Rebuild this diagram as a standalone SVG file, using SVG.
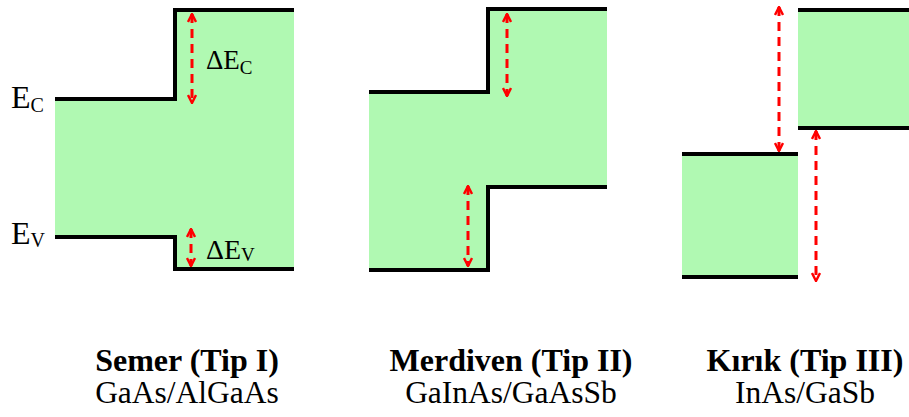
<svg xmlns="http://www.w3.org/2000/svg" width="909" height="417" viewBox="0 0 909 417">
<defs>
<marker id="ah" viewBox="0 0 10 10" refX="9" refY="5" markerWidth="10" markerHeight="10" markerUnits="userSpaceOnUse" orient="auto-start-reverse">
<path d="M1,1 L9,5 L1,9" fill="none" stroke="#ff0000" stroke-width="2.4"/>
</marker>
<style>
.fill{fill:#b0f9b2;stroke:none}
.band{fill:none;stroke:#000;stroke-width:4;stroke-linejoin:miter;stroke-linecap:butt}
.arr{fill:none;stroke:#ff0000;stroke-width:3;stroke-dasharray:9,6;marker-start:url(#ah);marker-end:url(#ah)}
text{font-family:'Liberation Serif','Times New Roman','DejaVu Serif',serif;fill:#000}
.title{font-weight:bold;font-size:32px;text-anchor:middle}
.sub{font-size:31.5px;text-anchor:middle}
</style>
</defs>
<g id="tip1">
<path class="fill" d="M55,99 H175 V10 H294 V269 H175 V237 H55 Z"/>
<path class="band" d="M55,99 H175 V10 H294"/>
<path class="band" d="M55,237 H175 V269 H294"/>
<text x="11" y="108" font-size="32">E<tspan font-size="20" dy="4">C</tspan></text>
<text x="11" y="244" font-size="32">E<tspan font-size="20" dy="3">V</tspan></text>
<text x="206" y="69" font-size="27">ΔE<tspan font-size="19" dy="5">C</tspan></text>
<text x="206" y="259" font-size="28">ΔE<tspan font-size="19" dy="2">V</tspan></text>
<text class="title" x="187" y="371">Semer (Tip I)</text>
<text class="sub" x="187" y="403">GaAs/AlGaAs</text>
</g>
<g id="tip2">
<path class="fill" d="M369,92 H488 V9 H607 V187 H488 V270 H369 Z"/>
<path class="band" d="M369,92 H488 V9 H607"/>
<path class="band" d="M369,270 H488 V187 H607"/>
<text class="title" x="511" y="371">Merdiven (Tip II)</text>
<text class="sub" x="511" y="403">GaInAs/GaAsSb</text>
</g>
<g id="tip3">
<rect class="fill" x="682" y="154" width="116" height="123"/>
<rect class="fill" x="798" y="10" width="111" height="118"/>
<path class="band" d="M682,154 H798 M682,277 H798"/>
<path class="band" d="M798,10 H909 M798,128 H909"/>
<text class="title" x="805" y="371">Kırık (Tip III)</text>
<text class="sub" x="805" y="403">InAs/GaSb</text>
</g>
<g id="connectors">
<line class="arr" x1="192" y1="14" x2="192" y2="103"/>
<line class="arr" x1="191" y1="229" x2="191" y2="266" stroke-dasharray="7,6"/>
<line class="arr" x1="507" y1="14" x2="507" y2="96"/>
<line class="arr" x1="468" y1="186" x2="468" y2="266"/>
<line class="arr" x1="779" y1="7" x2="779" y2="151"/>
<line class="arr" x1="816" y1="131" x2="816" y2="281"/>
</g>
</svg>
